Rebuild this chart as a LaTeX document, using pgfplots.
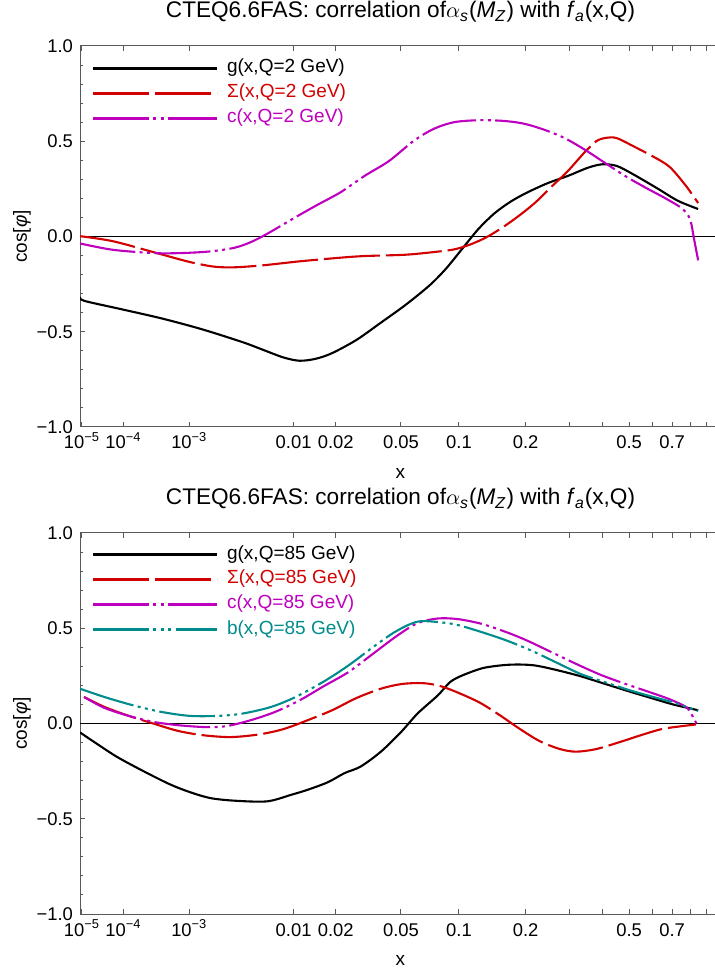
\documentclass[border=0pt]{standalone}
\usepackage{fontspec}
\setmainfont{Liberation Sans}
\usepackage{pgfplots}
\pgfplotsset{compat=1.18}

\definecolor{cred}{RGB}{210,0,0}
\definecolor{cmag}{RGB}{190,0,190}
\definecolor{cteal}{RGB}{0,140,140}
\definecolor{framegray}{gray}{0.35}

% dash styles (Mathematica-like)
\tikzset{
  sigdash/.style={dash pattern=on 28pt off 3pt},
  cdash/.style={dash pattern=on 28pt off 2.2pt on 1.5pt off 2.2pt on 1.5pt off 2.2pt},
  bdash/.style={dash pattern=on 28pt off 2.2pt on 1.5pt off 2.2pt on 1.5pt off 2.2pt on 1.5pt off 2.2pt},
}

% x axis is u = x^0.2 ; tick positions are the u values of the labelled x
\pgfplotsset{
  cteq/.style={
    anchor=south west,
    x=355pt, y=95.25pt,
    xmin=0.0972, xmax=1, ymin=-1, ymax=1,
    axis line style={framegray, line width=0.5pt},
    every tick/.style={framegray, line width=0.5pt},
    tick align=inside,
    major tick length=2.3pt, minor tick length=1.4pt,
    xtick={0.1,0.158489,0.251189,0.398107,0.457305,0.549280,0.630957,0.724780,
           0.786003,0.832553,0.870551,0.902880,0.931149,0.956352,0.979148},
    xticklabels={10\textsuperscript{−5},10\textsuperscript{−4},10\textsuperscript{−3},
           0.01,0.02,0.05,0.1,0.2,{},{},0.5,{},0.7,{},{}},
    ytick={-1,-0.5,0,0.5,1},
    yticklabels={−1.0,−0.5,0.0,0.5,1.0},
    minor y tick num=4,
    xticklabel style={anchor=base, yshift=-11pt, font=\fontsize{9.2}{11}\selectfont},
    yticklabel style={font=\fontsize{9.2}{11}\selectfont},
    xlabel={x}, ylabel={cos[\textit{φ}]},
    xlabel style={at={(axis description cs:0.5,-0.121)}, anchor=center, font=\fontsize{9.5}{11}\selectfont},
    ylabel style={at={(axis description cs:-0.0905,0.5)}, anchor=center, font=\fontsize{9.5}{11}\selectfont},
    title style={at={(axis description cs:0.5,1)}, anchor=base, yshift=8pt, font=\fontsize{11.3}{13}\selectfont},
    title={CTEQ6.6FAS: correlation of$\alpha$\textsubscript{\textit{s}}(\textit{M}\textsubscript{\textit{Z}}) with \textit{f}\textsubscript{\textit{a}}(x,Q)},
    legend style={draw=none, fill=none, at={(axis description cs:0,1)}, anchor=north west,
      xshift=6pt, yshift=-6.5pt, inner sep=0pt, outer sep=0pt, row sep=3pt,
      nodes={inner sep=0pt, text height=7pt, text depth=2.5pt},
      font=\fontsize{9.5}{11}\selectfont},
    legend cell align=left,
    legend image code/.code={\draw[##1] (0pt,0pt) -- (62pt,0pt); \path (66.5pt,0pt);},
    every axis plot/.append style={line width=1.05pt},
  }
}

\begin{document}
\begin{tikzpicture}

% ---------------- Q = 2 GeV ----------------
\begin{axis}[cteq, at={(40pt,271.5pt)}]
\addplot[black, line width=0.5pt, forget plot] coordinates {(0,0) (1.1,0)};
\addplot[black, smooth] coordinates {
(0.0972,-0.3165) (0.1029,-0.3374) (0.1545,-0.3809) (0.2117,-0.4296) (0.2690,-0.4870)
(0.3263,-0.5548) (0.3549,-0.5948) (0.3836,-0.6348) (0.4065,-0.6522) (0.4294,-0.6417)
(0.4523,-0.6122) (0.4867,-0.5426) (0.5210,-0.4522) (0.5554,-0.3600) (0.5898,-0.2557)
(0.6127,-0.1687) (0.6356,-0.0643) (0.6585,0.0400) (0.6814,0.1230) (0.7043,0.1843)
(0.7272,0.2313) (0.7559,0.2800) (0.7845,0.3183) (0.8131,0.3617) (0.8332,0.3791)
(0.8532,0.3704) (0.8761,0.3270) (0.9105,0.2522) (0.9391,0.1878) (0.9678,0.1443)
};
\addlegendentry{g(x,Q=2 GeV)}
\addplot[cred, sigdash, smooth] coordinates {
(0.0972,0.0017) (0.1430,-0.0243) (0.2003,-0.0817) (0.2518,-0.1339) (0.2862,-0.1583)
(0.3148,-0.1617) (0.3549,-0.1513) (0.4065,-0.1304) (0.4638,-0.1113) (0.4981,-0.1026)
(0.5554,-0.0957) (0.5955,-0.0817) (0.6241,-0.0678) (0.6470,-0.0417) (0.6699,-0.0035)
(0.6928,0.0487) (0.7157,0.1096) (0.7387,0.1791) (0.7616,0.2626) (0.7845,0.3443)
(0.8074,0.4400) (0.8246,0.5009) (0.8389,0.5183) (0.8532,0.5165) (0.8761,0.4748)
(0.9047,0.4191) (0.9277,0.3652) (0.9506,0.2661) (0.9678,0.1757)
};
\addlegendentry{\textcolor{cred}{Σ(x,Q=2 GeV)}}
\addplot[cmag, cdash, smooth] coordinates {
(0.0972,-0.0365) (0.1430,-0.0696) (0.2003,-0.0870) (0.2404,-0.0870) (0.2805,-0.0783)
(0.3148,-0.0591) (0.3377,-0.0296) (0.3607,0.0139) (0.3950,0.0887) (0.4294,0.1617)
(0.4638,0.2313) (0.4981,0.3183) (0.5325,0.3965) (0.5668,0.5009) (0.5955,0.5652)
(0.6241,0.6000) (0.6585,0.6104) (0.6928,0.6070) (0.7215,0.5930) (0.7501,0.5617)
(0.7788,0.5183) (0.8074,0.4574) (0.8360,0.3878) (0.8647,0.3183) (0.8933,0.2574)
(0.9219,0.2000) (0.9448,0.1478) (0.9563,0.0922) (0.9620,-0.0122) (0.9678,-0.1252)
};
\addlegendentry{\textcolor{cmag}{c(x,Q=2 GeV)}}
\end{axis}

% ---------------- Q = 85 GeV ----------------
\begin{axis}[cteq, at={(40pt,28pt)}, legend style={yshift=0.5pt}]
\addplot[black, line width=0.5pt, forget plot] coordinates {(0,0) (1.1,0)};
\addplot[black, smooth] coordinates {
(0.0972,-0.0470) (0.1201,-0.1043) (0.1487,-0.1739) (0.1831,-0.2435) (0.2232,-0.3183)
(0.2518,-0.3600) (0.2805,-0.3913) (0.3148,-0.4052) (0.3607,-0.4087) (0.3950,-0.3739)
(0.4179,-0.3478) (0.4466,-0.3078) (0.4695,-0.2609) (0.4924,-0.2261) (0.5210,-0.1478)
(0.5497,-0.0435) (0.5726,0.0522) (0.6012,0.1478) (0.6184,0.2174) (0.6356,0.2522)
(0.6642,0.2904) (0.6928,0.3061) (0.7157,0.3096) (0.7387,0.3043) (0.7673,0.2817)
(0.8017,0.2487) (0.8360,0.2087) (0.8704,0.1687) (0.9047,0.1304) (0.9334,0.0991)
(0.9678,0.0696)
};
\addlegendentry{g(x,Q=85 GeV)}
\addplot[cred, sigdash, smooth] coordinates {
(0.1029,0.1391) (0.1316,0.0870) (0.1659,0.0400) (0.2003,0.0000) (0.2347,-0.0383)
(0.2690,-0.0609) (0.3091,-0.0713) (0.3492,-0.0574) (0.3836,-0.0296) (0.4179,0.0174)
(0.4523,0.0696) (0.4867,0.1339) (0.5210,0.1826) (0.5497,0.2070) (0.5783,0.2122)
(0.6012,0.2000) (0.6241,0.1704) (0.6585,0.1130) (0.6871,0.0470) (0.7157,-0.0261)
(0.7444,-0.0922) (0.7730,-0.1339) (0.7959,-0.1478) (0.8246,-0.1339) (0.8589,-0.0957)
(0.8876,-0.0609) (0.9162,-0.0296) (0.9448,-0.0139) (0.9649,-0.0052)
};
\addlegendentry{\textcolor{cred}{Σ(x,Q=85 GeV)}}
\addplot[cmag, cdash, smooth] coordinates {
(0.1029,0.1391) (0.1316,0.0817) (0.1659,0.0400) (0.2003,0.0087) (0.2347,-0.0087)
(0.2747,-0.0191) (0.3034,-0.0139) (0.3377,0.0174) (0.3721,0.0609) (0.4065,0.1217)
(0.4408,0.1965) (0.4752,0.2696) (0.5096,0.3652) (0.5439,0.4609) (0.5726,0.5270)
(0.6012,0.5513) (0.6298,0.5478) (0.6642,0.5217) (0.6986,0.4783) (0.7272,0.4348)
(0.7616,0.3739) (0.7959,0.3130) (0.8303,0.2557) (0.8647,0.2087) (0.8990,0.1652)
(0.9277,0.1270) (0.9506,0.0870) (0.9592,0.0435) (0.9678,-0.0174)
};
\addlegendentry{\textcolor{cmag}{c(x,Q=85 GeV)}}
\addplot[cteal, bdash, smooth] coordinates {
(0.0972,0.1826) (0.1316,0.1391) (0.1717,0.0957) (0.2117,0.0609) (0.2518,0.0400)
(0.2919,0.0400) (0.3263,0.0522) (0.3664,0.0870) (0.4008,0.1391) (0.4408,0.2209)
(0.4752,0.3043) (0.5096,0.4000) (0.5382,0.4748) (0.5611,0.5200) (0.5783,0.5374)
(0.6069,0.5304) (0.6298,0.5165) (0.6642,0.4783) (0.6986,0.4348) (0.7329,0.3826)
(0.7673,0.3217) (0.8017,0.2609) (0.8360,0.2174) (0.8704,0.1757) (0.9047,0.1391)
(0.9334,0.1096) (0.9678,0.0661)
};
\addlegendentry{\textcolor{cteal}{b(x,Q=85 GeV)}}
\end{axis}

\pgfresetboundingbox
\path[use as bounding box] (0,0) rectangle (357.5pt,485pt);
\end{tikzpicture}
\end{document}
